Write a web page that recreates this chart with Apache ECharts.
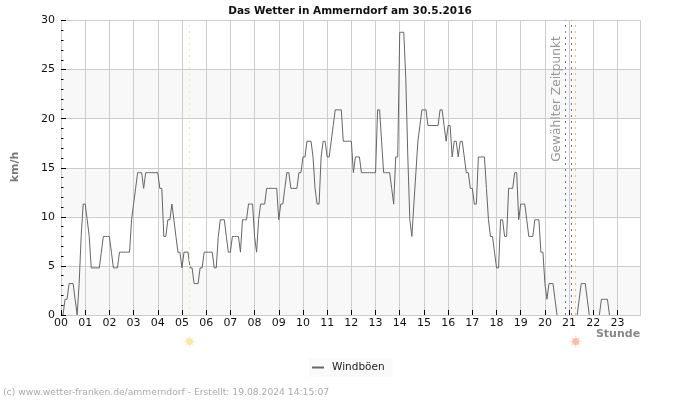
<!DOCTYPE html>
<html><head><meta charset="utf-8">
<style>html,body{margin:0;padding:0;background:#fff}#c{width:700px;height:400px}</style>
<script src="https://cdn.jsdelivr.net/npm/echarts@6/dist/echarts.min.js"></script>
</head><body><div id="c"></div>
<script>
var gusts = [
0,0,1.6,1.6,3.2,3.2,3.2,1.6,0,3.2,8.0,11.3,
11.3,9.7,8.0,4.8,4.8,4.8,4.8,4.8,6.4,8.0,8.0,8.0,
8.0,6.4,4.8,4.8,4.8,6.4,6.4,6.4,6.4,6.4,6.4,9.7,
11.3,12.9,14.5,14.5,14.5,12.9,14.5,14.5,14.5,14.5,14.5,14.5,
14.5,12.9,12.9,8.0,8.0,9.7,9.7,11.3,9.7,8.0,6.4,6.4,
4.8,6.4,6.4,6.4,4.8,4.8,3.2,3.2,3.2,4.8,4.8,6.4,
6.4,6.4,6.4,6.4,4.8,4.8,8.0,9.7,9.7,9.7,8.0,6.4,
6.4,8.0,8.0,8.0,8.0,6.4,9.7,9.7,9.7,11.3,11.3,11.3,
8.0,6.4,9.7,11.3,11.3,11.3,12.9,12.9,12.9,12.9,12.9,12.9,
9.7,11.3,11.3,12.9,14.5,14.5,12.9,12.9,12.9,12.9,14.5,14.5,
16.1,16.1,17.7,17.7,17.7,16.1,12.9,11.3,11.3,16.1,17.7,17.7,
16.1,16.1,17.7,19.3,20.9,20.9,20.9,20.9,17.7,17.7,17.7,17.7,
17.7,14.5,16.1,16.1,16.1,14.5,14.5,14.5,14.5,14.5,14.5,14.5,
14.5,20.9,20.9,17.7,14.5,14.5,14.5,14.5,12.9,11.3,16.1,16.1,
28.8,28.8,28.8,24.1,16.1,9.7,8.0,11.3,14.5,17.7,19.3,20.9,
20.9,20.9,19.3,19.3,19.3,19.3,19.3,19.3,20.9,20.9,19.3,17.7,
19.3,19.3,16.1,17.7,17.7,16.1,17.7,17.7,16.1,14.5,14.5,12.9,
12.9,11.3,11.3,16.1,16.1,16.1,16.1,12.9,9.7,8.0,8.0,6.4,
4.8,4.8,9.7,9.7,8.0,8.0,12.9,12.9,12.9,14.5,14.5,9.7,
11.3,11.3,11.3,9.7,8.0,8.0,8.0,9.7,9.7,9.7,6.4,6.4,
3.2,1.6,3.2,3.2,3.2,1.6,0,0,0,0,0,0,
0,0,0,0,0,1.6,3.2,3.2,3.2,1.6,0,0,
0,0,0,0,1.6,1.6,1.6,1.6,0,0,0,0,
0,0,0,0,0,0,0,0,0,0,0,0
];
var sunrise = 5.31, sunset = 21.27;
var selectedTimes = [20.85, 21.1];
var titleText = 'Das Wetter in Ammerndorf am 30.5.2016';
var footerText = '(c) www.wetter-franken.de/ammerndorf - Erstellt: 19.08.2024 14:15:07';
var sunBelowAxis = -2.7;

var FONT = '"DejaVu Sans"';
var rays = 'path://M9 0h2v20h-2z M0 9h20v2h-20z M2.5 3.9l1.4-1.4 13.6 13.6-1.4 1.4z M16.1 2.5l1.4 1.4-13.6 13.6-1.4-1.4z';
function vline(x, color) {
  return {xAxis: x, lineStyle: {color: color, type: [2, 4], width: 1}};
}
function sun(x, core, ray) {
  return [
    {name: 'r', type: 'scatter', clip: false, silent: true, symbol: rays, symbolSize: 12,
     itemStyle: {color: ray}, data: [[x, sunBelowAxis]], z: 4},
    {name: 'c', type: 'scatter', clip: false, silent: true, symbol: 'circle', symbolSize: 7,
     itemStyle: {color: core}, data: [[x, sunBelowAxis]], z: 5}
  ];
}
// calm stretches (0 with 0 on both sides) leave no trace above the axis line
var gustPoints = gusts.map(function (v, i) {
  var calm = v === 0 && (i === 0 || gusts[i - 1] === 0) && (i === gusts.length - 1 || gusts[i + 1] === 0);
  return [i / 12, calm ? null : v];
});
var chart = echarts.init(document.getElementById('c'), null, {renderer: 'canvas'});
chart.setOption({
  animation: false,
  backgroundColor: '#fff',
  textStyle: {fontFamily: FONT},
  title: {text: titleText, left: 345, top: 1, textAlign: 'center',
    textStyle: {fontFamily: FONT, fontSize: 10.5, fontWeight: 'bold', color: '#111'}},
  grid: {left: 61, top: 20.5, width: 579.5, height: 294.5, containLabel: false},
  legend: {data: ['Windböen'], left: 309, top: 358, padding: [4, 8, 4, 3], backgroundColor: '#fafafa',
    itemWidth: 12, itemHeight: 2, icon: 'rect', itemGap: 8,
    textStyle: {fontFamily: FONT, fontSize: 10.5, color: '#222', padding: [0, 0, 0, 3]}},
  xAxis: [
    {type: 'value', min: 0, max: 23.95, interval: 1, axisLine: {show: false}, axisTick: {show: false},
     axisLabel: {show: false}, splitLine: {show: true, lineStyle: {color: '#cccccc', width: 1}}},
    {type: 'value', min: 0, max: 23.95, interval: 1, position: 'bottom', z: 3,
     axisLine: {show: true, onZero: false, lineStyle: {color: '#cccccc', width: 1}},
     axisTick: {show: true, inside: true, length: 5, lineStyle: {color: '#000', width: 1}},
     splitLine: {show: false},
     axisLabel: {show: true, margin: 3, fontFamily: FONT, fontSize: 11, color: '#111', showMinLabel: true, showMaxLabel: false,
       hideOverlap: false, formatter: function (v) { return (v < 10 ? '0' : '') + v; }}}
  ],
  yAxis: [
    {type: 'value', min: 0, max: 30, interval: 5, z: 0,
     axisLine: {show: false}, axisTick: {show: false}, axisLabel: {show: false},
     splitLine: {show: true, lineStyle: {color: '#cccccc', width: 1}},
     splitArea: {show: true, areaStyle: {color: ['#f8f8f8', '#ffffff']}}},
    {type: 'value', min: 0, max: 30, interval: 5, z: 3, position: 'left',
     axisLine: {show: true, onZero: false, lineStyle: {color: '#cccccc', width: 1}},
     axisTick: {show: true, inside: true, length: 5, lineStyle: {color: '#000', width: 1}},
     minorTick: {show: true, splitNumber: 5, length: 2.5, lineStyle: {color: '#000', width: 1}},
     axisLabel: {margin: 6, fontFamily: FONT, fontSize: 11, color: '#111'},
     splitLine: {show: false}, splitArea: {show: false}}
  ],
  series: [
    {name: 'Windböen', type: 'line', showSymbol: false, z: 2, clip: true, connectNulls: false,
     xAxisIndex: 0, yAxisIndex: 0,
     lineStyle: {color: '#666666', width: 1}, itemStyle: {color: '#666666'},
     data: gustPoints,
     markLine: {silent: true, symbol: 'none', label: {show: false}, animation: false,
       data: [vline(sunrise, '#f2eea0'), vline(selectedTimes[0], '#777777'),
              vline(selectedTimes[1], '#777777'), vline(sunset, '#eec070')]}}
  ].concat(sun(sunrise, '#fde39c', '#fdeec6'), sun(sunset, '#fdb09c', '#fdd6cb')),
  graphic: [
    {type: 'text', x: 15, y: 167, rotation: Math.PI / 2, silent: true, z: 10,
     style: {text: 'km/h', font: 'bold 11px ' + FONT, fill: '#777', align: 'center', verticalAlign: 'middle'}},
    {type: 'text', x: 618, y: 334, silent: true, z: 10,
     style: {text: 'Stunde', font: 'bold 11px ' + FONT, fill: '#888', align: 'center', verticalAlign: 'middle'}},
    {type: 'text', x: 557, y: 99, rotation: Math.PI / 2, silent: true, z: 10,
     style: {text: 'Gewählter Zeitpunkt', font: '12.2px ' + FONT, fill: '#999', align: 'center', verticalAlign: 'middle'}},
    {type: 'text', x: 3, y: 393, silent: true, z: 10,
     style: {text: footerText, font: '9.2px ' + FONT, fill: '#aaa', align: 'left', verticalAlign: 'middle'}}
  ]
});
</script></body></html>
